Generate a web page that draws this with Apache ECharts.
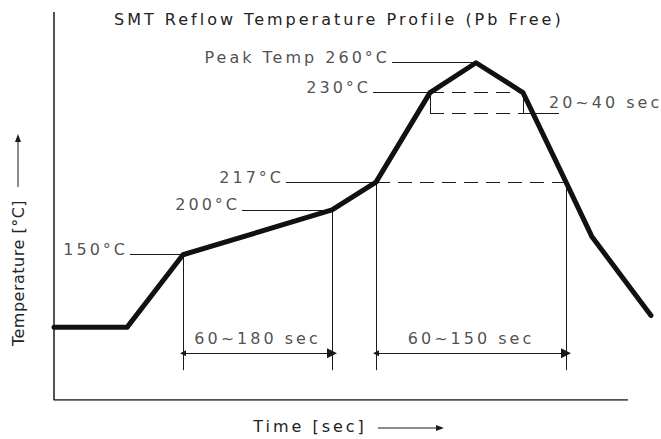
<!DOCTYPE html>
<html>
<head>
<meta charset="utf-8">
<script src="https://cdn.jsdelivr.net/npm/echarts@6/dist/echarts.min.js"></script>
<style>
  html, body { margin: 0; padding: 0; background: #fff; }
  #chart { width: 661px; height: 439px; }
  /* the drawing uses widely tracked lettering */
  #chart text[style*="Verdana"] { letter-spacing: 3px; }
  #chart text[style*="Tahoma"] { letter-spacing: 0.5px; }
</style>
</head>
<body>
<div id="chart"></div>
<script>
// reflow curve in diagram units (time to the right, level upwards) - the source is a sketch, not to scale
const profileTime = [0, 73, 129, 278, 322, 376, 422, 469, 512, 538, 597];
const profileLevel = [73, 73, 146, 191, 219, 309, 339, 309, 219, 164, 85];

// temperature call-outs: text, level, leader start and where it meets the curve
const tempLabels = ['150°C', '200°C', '217°C', '230°C', 'Peak Temp 260°C'];
const tempLevels = [146, 191, 219, 309, 339];
const tempLeaderStart = [76, 188, 232, 319, 338];
const tempLeaderEnd = [129, 278, 322, 376, 422];

// drop lines marking the time windows
const dropTime = [129, 278, 322, 512];
const dropTop = [146, 191, 219, 219];
const dropBottom = 30;

// time windows with dimension arrows
const phaseLabels = ['60~180 sec', '60~150 sec'];
const phaseStart = [129, 322];
const phaseEnd = [278, 512];
const phaseLevel = 47;
const phaseLabelLevel = 62;

// liquidus (217°C) dashed line
const liquidusStart = 322;
const liquidusEnd = 512;
const liquidusLevel = 219;

// time above 230°C box
const dwellLabel = '20~40 sec';
const dwellStart = 376;
const dwellEnd = 469;
const dwellTop = 309;
const dwellBottom = 288;
const dwellLeaderEnd = 505;
const dwellLabelTime = 495;

// axis frame
const frameTime = [0, 0, 574];
const frameLevel = [390, 0, 0];

const FONT = 'DejaVu Sans, Verdana';
const TEXT = '#222';
const INK = '#1a1a1a';

const seg = (x1, y1, x2, y2) => ({ coords: [[x1, y1], [x2, y2]] });

const solidSegs = [];
tempLabels.forEach((t, i) => solidSegs.push(seg(tempLeaderStart[i], tempLevels[i], tempLeaderEnd[i], tempLevels[i])));
dropTime.forEach((x, i) => solidSegs.push(seg(x, dropTop[i], x, dropBottom)));
solidSegs.push(seg(dwellStart, dwellTop, dwellStart, dwellBottom));
solidSegs.push(seg(dwellEnd, dwellTop, dwellEnd, dwellBottom));
solidSegs.push(seg(dwellEnd, dwellBottom, dwellLeaderEnd, dwellBottom));

const dashedSegs = [
  seg(liquidusStart, liquidusLevel, liquidusEnd, liquidusLevel),
  seg(dwellStart, dwellTop, dwellEnd, dwellTop),
  seg(dwellStart, dwellBottom, dwellEnd, dwellBottom)
];

const dimSegs = phaseStart.map((x, i) => seg(x, phaseLevel, phaseEnd[i], phaseLevel));

const chart = echarts.init(document.getElementById('chart'), null, { renderer: 'svg' });

chart.setOption({
  animation: false,
  title: {
    text: 'SMT Reflow Temperature Profile (Pb Free)',
    left: 114,
    top: 11,
    padding: 0,
    textStyle: { fontFamily: FONT, fontSize: 16, fontWeight: 'normal', color: TEXT }
  },
  grid: { left: 54, right: 5, top: 12, bottom: 37 },
  xAxis: {
    type: 'value',
    min: 0,
    max: 602,
    name: 'Time [sec]',
    nameLocation: 'middle',
    nameGap: 18,
    nameTextStyle: { fontFamily: FONT, fontSize: 16, color: TEXT, padding: [0, 90, 0, 0] },
    axisLine: { show: false },
    axisTick: { show: false },
    axisLabel: { show: false },
    splitLine: { show: false }
  },
  yAxis: {
    type: 'value',
    min: 0,
    max: 390,
    name: 'Temperature [°C]',
    nameLocation: 'middle',
    nameRotate: 90,
    nameGap: 28,
    nameTextStyle: { fontFamily: 'DejaVu Sans, Tahoma', fontSize: 16, color: TEXT, padding: [0, 134, 0, 0] },
    axisLine: { show: false },
    axisTick: { show: false },
    axisLabel: { show: false },
    splitLine: { show: false }
  },
  graphic: [
    { type: 'line', shape: { x1: 18, y1: 187, x2: 18, y2: 141 }, style: { stroke: INK, lineWidth: 1 } },
    { type: 'polygon', shape: { points: [[18, 134], [15, 142], [21, 142]] }, style: { fill: INK } },
    { type: 'line', shape: { x1: 378, y1: 428, x2: 436, y2: 428 }, style: { stroke: INK, lineWidth: 1 } },
    { type: 'polygon', shape: { points: [[444, 428], [436, 425], [436, 431]] }, style: { fill: INK } }
  ],
  series: [
    {
      type: 'line',
      data: frameTime.map((x, i) => [x, frameLevel[i]]),
      symbol: 'none',
      silent: true,
      lineStyle: { color: INK, width: 1.5 }
    },
    {
      type: 'lines',
      coordinateSystem: 'cartesian2d',
      data: solidSegs,
      silent: true,
      lineStyle: { color: INK, width: 1, opacity: 1 }
    },
    {
      type: 'lines',
      coordinateSystem: 'cartesian2d',
      data: dashedSegs,
      silent: true,
      lineStyle: { color: INK, width: 1, type: [14, 8], opacity: 1 }
    },
    {
      type: 'lines',
      coordinateSystem: 'cartesian2d',
      data: dimSegs,
      silent: true,
      symbol: ['triangle', 'triangle'],
      symbolSize: [6, 10],
      lineStyle: { color: INK, width: 1, opacity: 1 }
    },
    {
      type: 'line',
      data: profileTime.map((x, i) => [x, profileLevel[i]]),
      symbol: 'none',
      silent: true,
      z: 5,
      lineStyle: { color: '#111', width: 5, cap: 'round', join: 'round' }
    },
    {
      type: 'scatter',
      data: tempLabels.map((t, i) => ({ value: [tempLeaderStart[i], tempLevels[i]], name: t })),
      symbolSize: 0,
      silent: true,
      label: {
        show: true,
        position: 'left',
        distance: 2,
        offset: [0, -5],
        formatter: p => p.name,
        fontFamily: FONT,
        fontSize: 16,
        color: TEXT
      }
    },
    {
      type: 'scatter',
      data: phaseLabels.map((t, i) => ({ value: [(phaseStart[i] + phaseEnd[i]) / 2, phaseLabelLevel], name: t })),
      symbolSize: 0,
      silent: true,
      label: {
        show: true,
        position: 'inside',
        formatter: p => p.name,
        fontFamily: FONT,
        fontSize: 16,
        color: TEXT
      }
    },
    {
      type: 'scatter',
      data: [{ value: [dwellLabelTime, dwellBottom], name: dwellLabel }],
      symbolSize: 0,
      silent: true,
      label: {
        show: true,
        position: 'right',
        distance: 0,
        offset: [0, -11],
        formatter: p => p.name,
        fontFamily: FONT,
        fontSize: 16,
        color: TEXT
      }
    }
  ]
});
</script>
</body>
</html>
